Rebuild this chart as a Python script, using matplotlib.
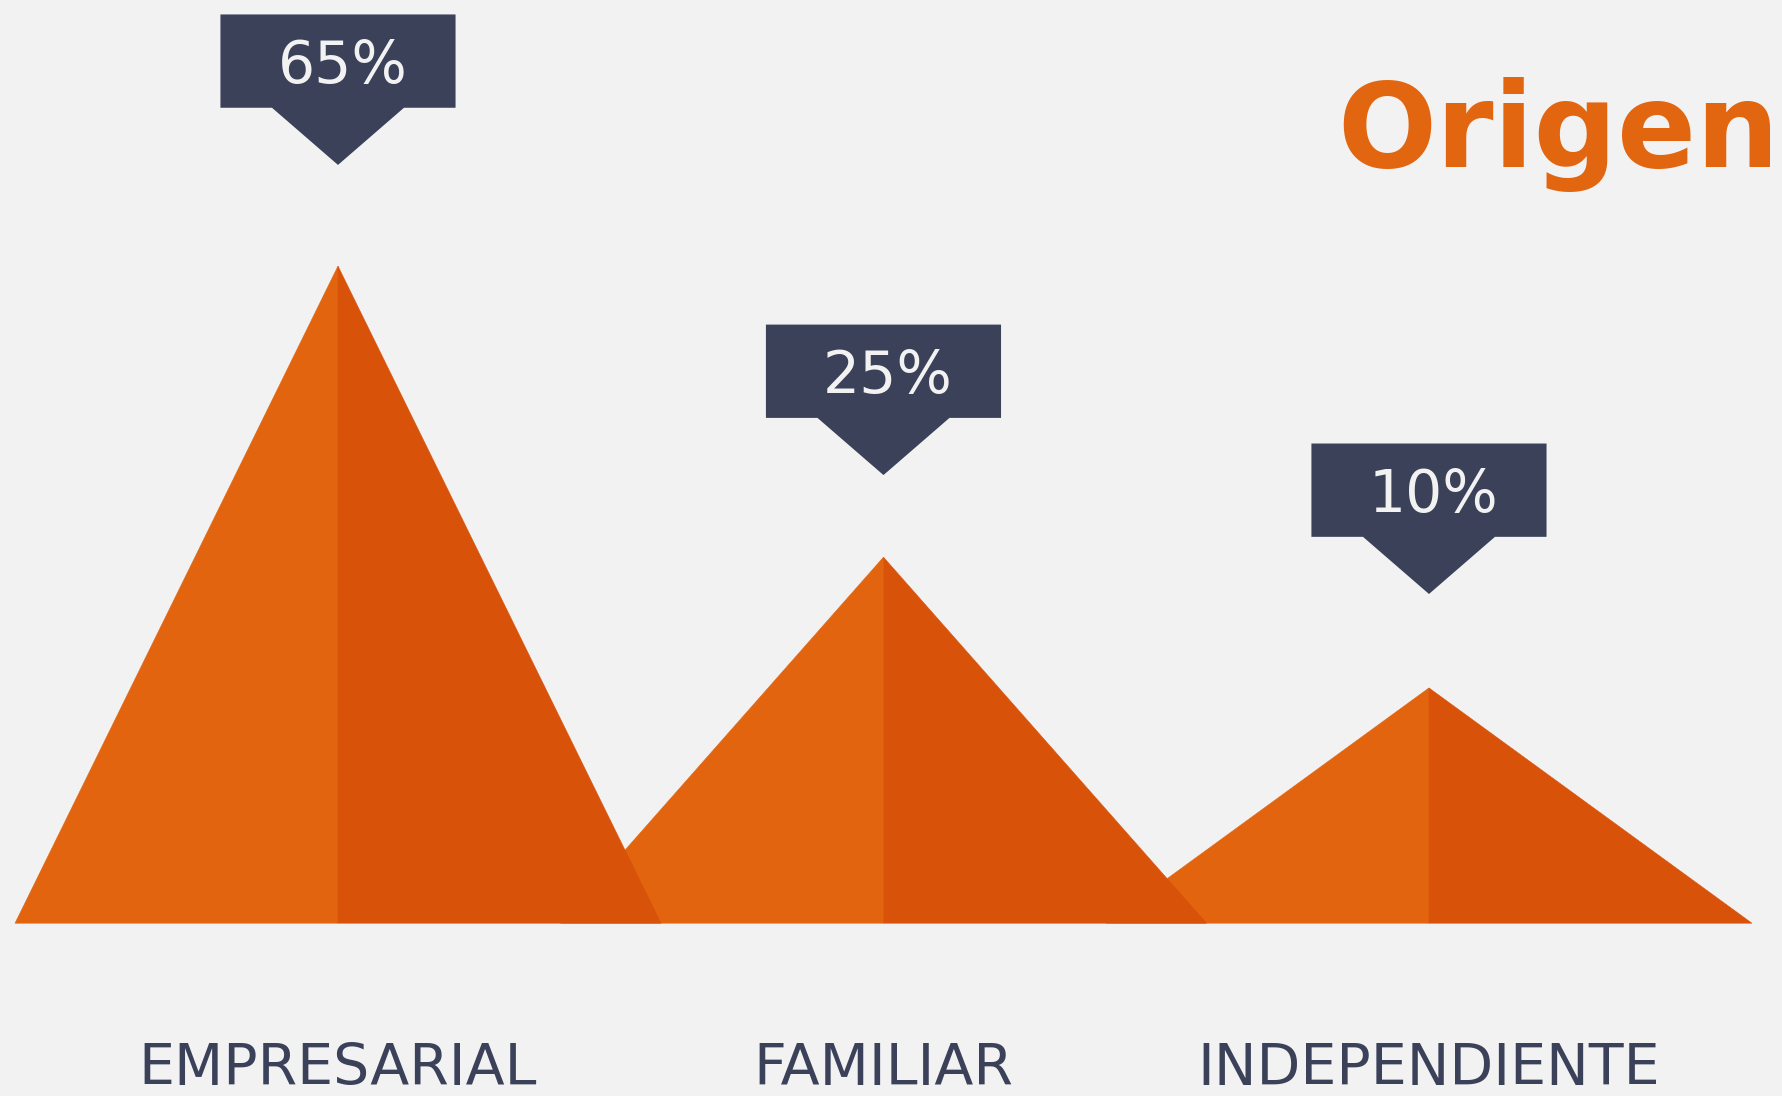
import matplotlib.pyplot as plt
from matplotlib.patches import Polygon

# datos del gráfico
categorias = ["EMPRESARIAL", "FAMILIAR", "INDEPENDIENTE"]
porcentajes = [65, 25, 10]
etiquetas = ["65%", "25%", "10%"]
# altura visual de cada pirámide (leída del dibujo, no proporcional)
alturas = [100, 55.7, 35.8]

# estilo
fondo = "#F2F2F2"
naranja_claro = "#E2640E"
naranja_oscuro = "#D8520A"
azul = "#3A4159"
media_base = 0.592
separacion = [15.4, 12.5, 14.3]
caja_ancho = 0.431
caja_alto = 14.2
pico_ancho = 0.121
pico_alto = 8.7

fig = plt.figure(figsize=(17.83, 10.96), dpi=100, facecolor=fondo)
ax = fig.add_axes([0, 0, 1, 1])
ax.set_facecolor(fondo)
ax.set_xlim(-0.6196, 2.649)
ax.set_ylim(-26.3, 140.5)
ax.axis("off")

for i, (cat, h, txt) in enumerate(zip(categorias, alturas, etiquetas)):
    z = 10 - i
    # cara izquierda y derecha de la pirámide
    ax.add_patch(Polygon([(i - media_base, 0), (i, h), (i, 0)],
                         closed=True, fc=naranja_claro, ec=naranja_claro, lw=0.4, zorder=z))
    ax.add_patch(Polygon([(i, 0), (i, h), (i + media_base, 0)],
                         closed=True, fc=naranja_oscuro, ec=naranja_oscuro, lw=0.4, zorder=z))

    # globo con el porcentaje
    punta = h + separacion[i]
    base_caja = punta + pico_alto
    globo = [
        (i - caja_ancho / 2, base_caja),
        (i - pico_ancho, base_caja),
        (i, punta),
        (i + pico_ancho, base_caja),
        (i + caja_ancho / 2, base_caja),
        (i + caja_ancho / 2, base_caja + caja_alto),
        (i - caja_ancho / 2, base_caja + caja_alto),
    ]
    ax.add_patch(Polygon(globo, closed=True, fc=azul, ec="none", zorder=20))
    ax.text(i + 0.008, base_caja + 3.8, txt, ha="center", va="baseline",
            color=fondo, fontsize=42, family="DejaVu Sans", zorder=21)

    ax.text(i, -24.6, cat, ha="center", va="baseline", color=azul,
            fontsize=41, family="DejaVu Sans")

fig.text(1779 / 1783, (1096 - 167) / 1096, "Origen", ha="right", va="baseline",
         color="#E2650F", fontsize=84, fontweight="bold", family="DejaVu Sans")

fig.savefig("out.png", dpi=100, facecolor=fondo)
